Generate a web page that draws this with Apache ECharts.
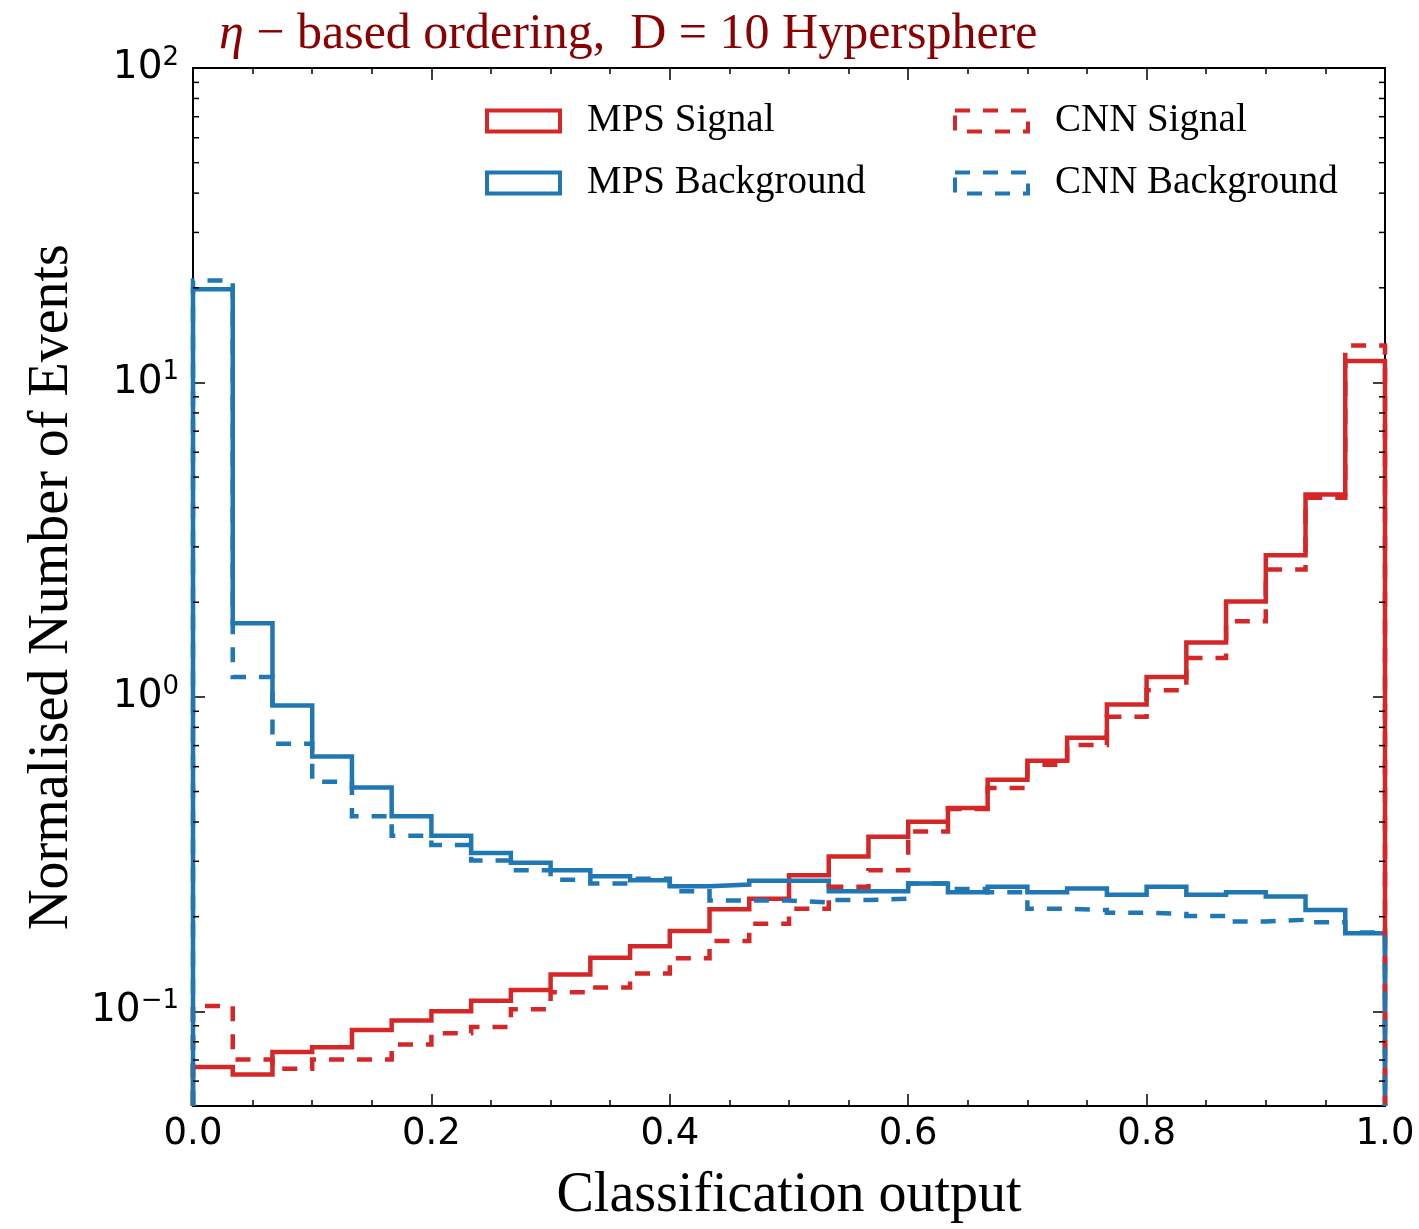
<!DOCTYPE html>
<html>
<head>
<meta charset="utf-8">
<title>Classification output histograms</title>
<script src="https://cdn.jsdelivr.net/npm/echarts@6/dist/echarts.min.js"></script>
<style>
  html, body { margin: 0; padding: 0; background: #fff; }
  #chart { width: 1419px; height: 1229px; }
</style>
</head>
<body>
<div id="chart"></div>
<script>
// 30 equal-width bins over the classifier output range [0, 1]
const binCount = 30;
const xRange = [0, 1];
const yRange = [0.05, 100];

// Normalised event counts per bin
const mpsSignal = [0.0665, 0.063, 0.0743, 0.0769, 0.0873, 0.0935, 0.100, 0.108, 0.117, 0.131,
  0.148, 0.161, 0.180, 0.211, 0.228, 0.271, 0.311, 0.359, 0.401, 0.443,
  0.545, 0.627, 0.742, 0.945, 1.157, 1.49, 2.01, 2.82, 4.40, 11.7];
const mpsBackground = [19.8, 1.715, 0.939, 0.646, 0.515, 0.417, 0.362, 0.319, 0.297, 0.281,
  0.269, 0.261, 0.250, 0.253, 0.260, 0.260, 0.241, 0.241, 0.255, 0.239,
  0.249, 0.239, 0.246, 0.235, 0.249, 0.235, 0.239, 0.232, 0.210, 0.177];
const cnnSignal = [0.104, 0.0703, 0.0657, 0.0703, 0.0703, 0.0785, 0.0852, 0.0892, 0.1015, 0.115,
  0.119, 0.132, 0.1475, 0.1675, 0.190, 0.212, 0.249, 0.281, 0.373, 0.440,
  0.513, 0.608, 0.703, 0.864, 1.05, 1.33, 1.74, 2.54, 4.3, 13.1];
const cnnBackground = [21.1, 1.157, 0.709, 0.537, 0.417, 0.362, 0.338, 0.302, 0.281, 0.262,
  0.255, 0.264, 0.241, 0.225, 0.225, 0.222, 0.226, 0.228, 0.255, 0.245,
  0.239, 0.212, 0.210, 0.206, 0.204, 0.201, 0.193, 0.1955, 0.192, 0.178];

const seriesNames = ['MPS Signal', 'MPS Background', 'CNN Signal', 'CNN Background'];
const xTickLabels = ['0.0', '0.2', '0.4', '0.6', '0.8', '1.0'];
const yDecadeExponents = [-1, 0, 1, 2];
const yMinorMultipliers = [2, 3, 4, 5, 6, 7, 8, 9];

const RED = '#d62728';
const BLUE = '#1f77b4';
const DASH = [15, 13];
const SERIF = '"Liberation Serif", "Times New Roman", serif';
const SANS = '"DejaVu Sans", sans-serif';

// Outline of a step histogram: rises from the floor at the first edge,
// runs across each bin, and drops back to the floor at the last edge.
function stepOutline(values) {
  const w = (xRange[1] - xRange[0]) / binCount;
  const pts = [[xRange[0], yRange[0]]];
  values.forEach((v, i) => pts.push([xRange[0] + i * w, v]));
  pts.push([xRange[1], values[values.length - 1]]);
  pts.push([xRange[1], yRange[0]]);
  return pts;
}

// Minor tick values 2..9 x 10^k inside the y range
const minorTickValues = [];
for (let k = -2; k <= 1; k++) {
  yMinorMultipliers.forEach(m => {
    const v = m * Math.pow(10, k);
    if (v > yRange[0] && v < yRange[1]) minorTickValues.push(v);
  });
}

function decadeLabel(v) {
  const e = Math.round(Math.log10(v));
  if (Math.abs(Math.log10(v) - e) > 1e-6 || yDecadeExponents.indexOf(e) < 0) return '';
  return '{b|10}{s|' + String(e).replace('-', '\u2212') + '}';
}

function xLabel(v) {
  const s = v.toFixed(1);
  return xTickLabels.indexOf(s) >= 0 ? s : '';
}

const stepSeries = (name, values, color, dashed) => ({
  name: name,
  type: 'line',
  step: 'end',
  symbol: 'none',
  data: stepOutline(values),
  color: color,
  lineStyle: { color: color, width: 4.5, type: dashed ? DASH : 'solid', cap: 'butt', join: 'miter' },
  itemStyle: { color: color },
  emphasis: { disabled: true },
  animation: false,
  z: 3
});

const legendItem = (name, color, dashed) => ({
  name: name,
  icon: 'rect',
  itemStyle: { color: 'rgba(0,0,0,0)', borderColor: color, borderWidth: 4, borderType: dashed ? DASH : 'solid' }
});

const legendBase = {
  orient: 'vertical',
  top: 96,
  itemWidth: 73,
  itemHeight: 21,
  itemGap: 22,
  selectedMode: false,
  formatter: n => '{t|' + n + '}',
  textStyle: {
    color: '#000',
    fontFamily: SERIF,
    fontSize: 39,
    lineHeight: 40,
    rich: { t: { fontFamily: SERIF, fontSize: 39, lineHeight: 40, color: '#000', padding: [0, 0, 0, 22] } }
  }
};

const xTickCommon = {
  type: 'value', min: xRange[0], max: xRange[1], interval: 0.2,
  axisLine: { show: true, onZero: false, lineStyle: { color: '#000', width: 2 } },
  axisTick: { show: true, inside: true, length: 12, lineStyle: { color: '#000', width: 1.5 } },
  minorTick: { show: true, splitNumber: 4, length: 6, lineStyle: { color: '#000', width: 1.5 } },
  splitLine: { show: false }
};
const yTickCommon = {
  type: 'log', logBase: 10, min: yRange[0], max: yRange[1], splitNumber: 3,
  axisLine: { show: true, onZero: false, lineStyle: { color: '#000', width: 2 } },
  axisTick: { show: true, inside: true, length: 12, lineStyle: { color: '#000', width: 1.5 } },
  splitLine: { show: false }
};

const chart = echarts.init(document.getElementById('chart'), null, { renderer: 'canvas' });

chart.setOption({
  backgroundColor: '#fff',
  animation: false,
  title: {
    text: '{i|\u03b7} \u2212 based ordering,  D = 10 Hypersphere',
    left: 214,
    top: 5,
    textStyle: {
      fontFamily: SERIF, fontSize: 50, fontWeight: 'normal', color: '#8b0000',
      rich: { i: { fontFamily: SERIF, fontSize: 50, fontStyle: 'italic', color: '#8b0000' } }
    }
  },
  grid: { left: 193, top: 68, width: 1192, height: 1043, containLabel: false },
  legend: [
    Object.assign({}, legendBase, {
      left: 480,
      data: [legendItem(seriesNames[0], RED, false), legendItem(seriesNames[1], BLUE, false)]
    }),
    Object.assign({}, legendBase, {
      left: 948,
      data: [legendItem(seriesNames[2], RED, true), legendItem(seriesNames[3], BLUE, true)]
    })
  ],
  xAxis: [
    Object.assign({}, xTickCommon, {
      position: 'bottom',
      name: 'Classification output',
      nameLocation: 'middle',
      nameGap: 62,
      nameTextStyle: { fontFamily: SERIF, fontSize: 56, color: '#000' },
      axisLabel: { show: true, margin: 10, color: '#000', fontFamily: SANS, fontSize: 37, formatter: xLabel }
    }),
    Object.assign({}, xTickCommon, { position: 'top', axisLabel: { show: false } })
  ],
  yAxis: [
    Object.assign({}, yTickCommon, {
      position: 'left',
      name: 'Normalised Number of Events',
      nameLocation: 'middle',
      nameRotate: 90,
      nameGap: 108,
      nameTextStyle: { fontFamily: SERIF, fontSize: 56, color: '#000' },
      axisLabel: {
        show: true, margin: 14, color: '#000', formatter: decadeLabel,
        rich: {
          b: { fontFamily: SANS, fontSize: 39, color: '#000', lineHeight: 46 },
          s: { fontFamily: SANS, fontSize: 26, color: '#000', verticalAlign: 'top', lineHeight: 26 }
        }
      }
    }),
    Object.assign({}, yTickCommon, { position: 'right', axisLabel: { show: false } })
  ],
  series: [
    stepSeries(seriesNames[0], mpsSignal, RED, false),
    stepSeries(seriesNames[1], mpsBackground, BLUE, false),
    stepSeries(seriesNames[2], cnnSignal, RED, true),
    stepSeries(seriesNames[3], cnnBackground, BLUE, true),
    {
      // minor log ticks on the left and right frame
      type: 'custom',
      silent: true,
      animation: false,
      clip: false,
      z: 5,
      data: minorTickValues.map(v => [xRange[0], v]),
      renderItem: function (params, api) {
        const v = api.value(1);
        const pl = api.coord([xRange[0], v]);
        const pr = api.coord([xRange[1], v]);
        const st = { stroke: '#000', lineWidth: 1.5 };
        return {
          type: 'group',
          children: [
            { type: 'line', shape: { x1: pl[0], y1: pl[1], x2: pl[0] + 6, y2: pl[1] }, style: st },
            { type: 'line', shape: { x1: pr[0] - 6, y1: pr[1], x2: pr[0], y2: pr[1] }, style: st }
          ]
        };
      }
    }
  ]
});
</script>
</body>
</html>
